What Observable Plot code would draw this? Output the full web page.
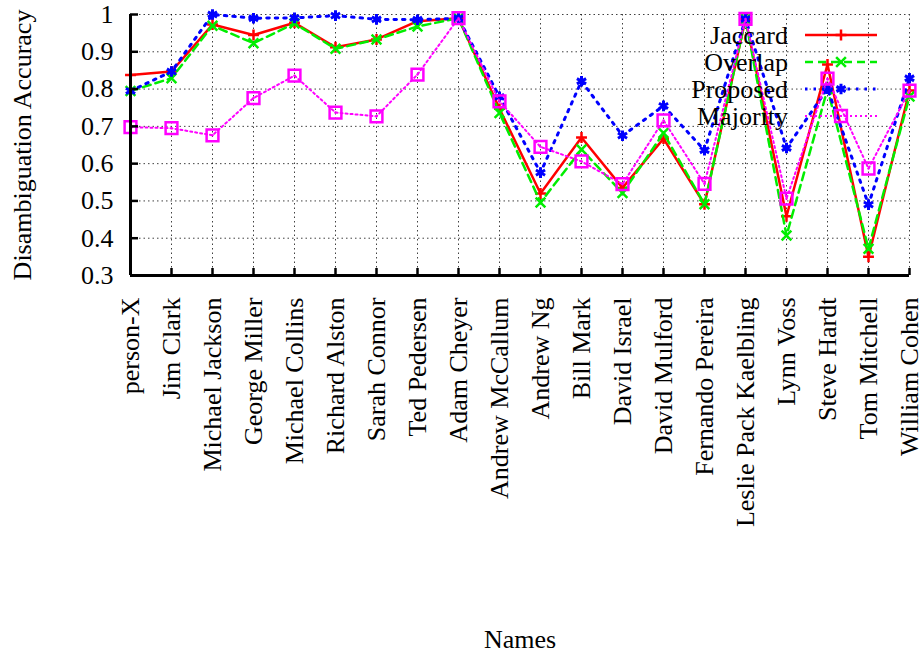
<!DOCTYPE html>
<html><head><meta charset="utf-8">
<script src="https://cdn.jsdelivr.net/npm/d3@7"></script>
<script src="https://cdn.jsdelivr.net/npm/@observablehq/plot@0.6"></script>
<style>
body{margin:0;background:#fff}
#wrap{position:relative;width:922px;height:657px;background:#fff}
#wrap svg{position:absolute;left:0;top:0}
</style>
</head><body><div id="wrap"></div>
<script>
const names = ["person-X","Jim Clark","Michael Jackson","George Miller","Michael Collins","Richard Alston","Sarah Connor","Ted Pedersen","Adam Cheyer","Andrew McCallum","Andrew Ng","Bill Mark","David Israel","David Mulford","Fernando Pereira","Leslie Pack Kaelbling","Lynn Voss","Steve Hardt","Tom Mitchell","William Cohen"];
const seriesNames = ["Jaccard","Overlap","Proposed","Majority"];
const jaccard  = [0.838,0.847,0.973,0.945,0.978,0.912,0.933,0.982,0.990,0.747,0.520,0.670,0.535,0.667,0.491,0.988,0.459,0.866,0.350,0.796];
const overlap  = [0.795,0.829,0.970,0.923,0.976,0.908,0.933,0.968,0.990,0.736,0.496,0.638,0.521,0.682,0.491,0.988,0.407,0.800,0.372,0.780];
const proposed = [0.795,0.847,1.000,0.990,0.991,0.997,0.987,0.986,0.990,0.779,0.576,0.821,0.675,0.755,0.636,0.988,0.642,0.801,0.490,0.829];
const majority = [0.698,0.695,0.676,0.776,0.836,0.737,0.727,0.839,0.990,0.767,0.645,0.606,0.545,0.716,0.546,0.988,0.506,0.828,0.587,0.796];
const yTicks = [0.3,0.4,0.5,0.6,0.7,0.8,0.9,1];
const yTickLabels = ["0.3","0.4","0.5","0.6","0.7","0.8","0.9","1"];
const xTitle = "Names";
const yTitle = "Disambiguation Accuracy";

const seriesValues = [jaccard, overlap, proposed, majority];
const styles = {
  Jaccard:  {color:"#ff0000", width:2.5, dash:null,    symbol:"plus",     r:3.6, sw:2.5},
  Overlap:  {color:"#00ee00", width:2.5, dash:"8,5",   symbol:"times",    r:4.5, sw:2.5},
  Proposed: {color:"#0000ff", width:3,   dash:"2.5,6", symbol:"asterisk", r:5,   sw:3},
  Majority: {color:"#ff00ff", width:2,   dash:"2,3",   symbol:"square2",  r:7.5, sw:2.5}
};
const rows = seriesNames.flatMap((s,i)=>names.map((n,j)=>({series:s, name:n, value:seriesValues[i][j]})));

const FONT = "'Liberation Serif','Times New Roman',serif";
const marks = [
  Plot.ruleY(yTicks, {y:d=>d, stroke:"#000", strokeOpacity:0.75, strokeWidth:1, strokeDasharray:"1.5,3"}),
  Plot.ruleX(names, {x:d=>d, stroke:"#000", strokeOpacity:0.75, strokeWidth:1, strokeDasharray:"1.5,3"})
];
for (const s of seriesNames) {
  const st = styles[s];
  const data = rows.filter(d=>d.series===s);
  marks.push(Plot.line(data, {x:"name", y:"value", stroke:st.color, strokeWidth:st.width, strokeDasharray:st.dash}));
  marks.push(Plot.dot(data, {x:"name", y:"value", symbol:()=>st.symbol, r:st.r, stroke:st.color, strokeWidth:st.sw, fill:"none"}));
  if (s==="Majority") marks.push(Plot.dot(data, {x:"name", y:"value", r:1, fill:st.color, stroke:st.color, strokeWidth:0.5}));
}
marks.push(
  Plot.ruleX([names[0]], {x:d=>d, stroke:"#000", strokeWidth:3}),
  Plot.ruleY([yTicks[0]], {y:d=>d, stroke:"#000", strokeWidth:3}),
  Plot.axisY(yTicks, {anchor:"left", tickSize:-8, tickFormat:()=>"", strokeWidth:2.5, label:null}),
  Plot.axisY(yTicks, {anchor:"left", tickSize:0, tickPadding:17, tickFormat:(d)=>yTickLabels[yTicks.indexOf(d)], fontSize:26, fill:"#000", label:null}),
  Plot.axisX(names, {anchor:"bottom", tickSize:-7, tickFormat:()=>"", strokeWidth:2.5, label:null}),
  Plot.axisX(names, {anchor:"bottom", tickSize:0, tickPadding:22, tickRotate:-90, fontSize:26, fill:"#000", label:null}),
  Plot.text([yTitle], {frameAnchor:"left", dx:-108, rotate:-90, textAnchor:"middle", lineAnchor:"middle", fontSize:26, fill:"#000", text:d=>d}),
  Plot.text([xTitle], {frameAnchor:"bottom", dy:372, textAnchor:"middle", fontSize:26, fill:"#000", text:d=>d})
);

const chart = Plot.plot({
  width:922, height:657,
  marginLeft:130, marginRight:13, marginTop:14, marginBottom:382,
  style:{fontFamily:FONT, fontSize:"26px", background:"#fff", color:"#000", overflow:"visible"},
  x:{type:"point", domain:names, padding:0, label:null},
  y:{domain:[0.3,1], label:null},
  marks
});
const wrap = document.getElementById("wrap");
wrap.appendChild(chart);

// legend overlay
const leg = d3.select(wrap).append("svg").attr("width",922).attr("height",657).style("pointer-events","none");
const rowsY = [35,62,89,116];
const symMap = {plus:d3.symbolPlus, times:d3.symbolTimes, asterisk:d3.symbolAsterisk, square2:d3.symbolSquare2};
seriesNames.forEach((s,i)=>{
  const st = styles[s], y = rowsY[i];
  leg.append("text").attr("x",788).attr("y",y+9).attr("text-anchor","end")
    .attr("font-family",FONT).attr("font-size",26).attr("fill","#000").text(s);
  leg.append("line").attr("x1",805).attr("x2",877).attr("y1",y).attr("y2",y)
    .attr("stroke",st.color).attr("stroke-width",st.width).attr("stroke-dasharray",st.dash);
  leg.append("path").attr("transform",`translate(841,${y})`)
    .attr("d", d3.symbol(symMap[st.symbol], Math.PI*st.r*st.r)())
    .attr("fill","none").attr("stroke",st.color).attr("stroke-width",st.sw);
  if (s==="Majority") leg.append("circle").attr("cx",841).attr("cy",y).attr("r",1).attr("fill",st.color);
});
</script>
</body></html>
